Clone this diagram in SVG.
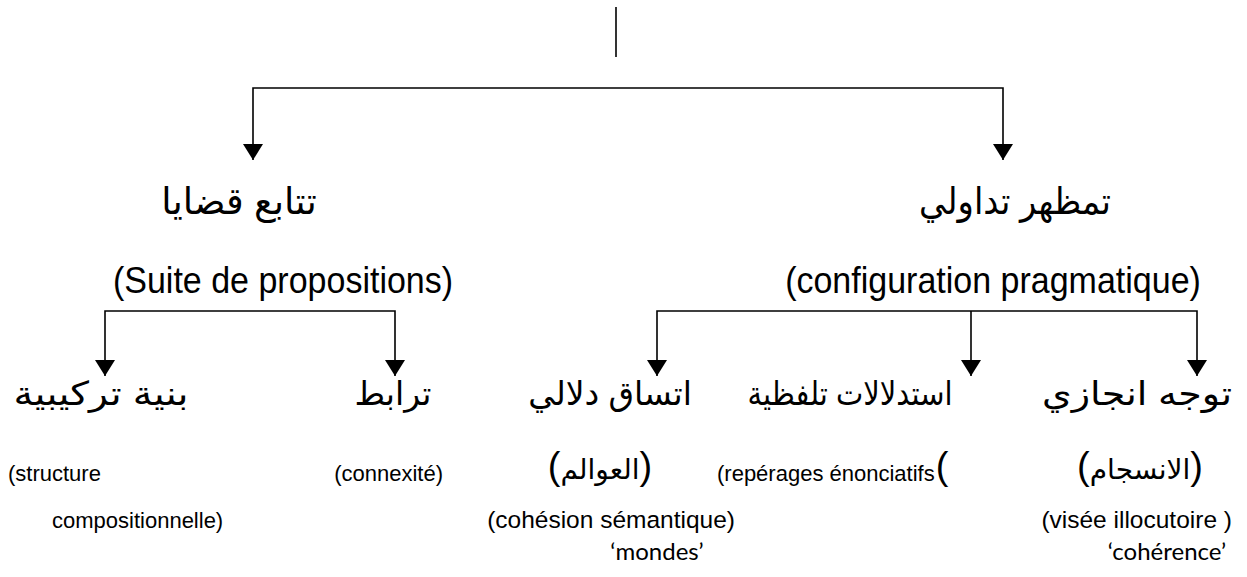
<svg xmlns="http://www.w3.org/2000/svg" width="1247" height="577" viewBox="0 0 1247 577">
<style>
.ln{fill:none;stroke:#000;stroke-width:1.6}
.ar1{font-family:"Liberation Sans","DejaVu Sans",sans-serif;font-size:37px;fill:#000;text-anchor:middle}
.fr1{font-family:"Liberation Sans",Arial,sans-serif;font-size:34px;fill:#000;text-anchor:middle}
.ar2{font-family:"Liberation Sans","DejaVu Sans",sans-serif;font-size:33px;fill:#000;text-anchor:middle}
.arp{font-family:"Liberation Sans","DejaVu Sans",sans-serif;font-size:38px;fill:#000;text-anchor:middle}
.arw{font-size:28px}
.sm{font-family:"Liberation Sans",Arial,sans-serif;font-size:22px;fill:#000}
.md{font-family:"Liberation Sans",Arial,sans-serif;font-size:24.5px;fill:#000}
.q{font-family:Lato,"Open Sans",sans-serif;font-size:24px;fill:#000;text-anchor:middle}
</style>
<defs>
<marker id="ah" markerUnits="userSpaceOnUse" viewBox="0 0 16 20" markerWidth="16" markerHeight="20" refX="16" refY="10" orient="auto-start-reverse">
<path d="M0,0 L16,10 L0,20 z" fill="#000"/>
</marker>
</defs>
<g id="connectors">
<path class="ln" d="M616,7 V57"/>
<path class="ln" d="M253,160 V88 H1003 V160" marker-start="url(#ah)" marker-end="url(#ah)"/>
<path class="ln" d="M105,376 V311 H395 V376" marker-start="url(#ah)" marker-end="url(#ah)"/>
<path class="ln" d="M657,376 V311 H1197 V376" marker-start="url(#ah)" marker-end="url(#ah)"/>
<path class="ln" d="M971,311 V376" marker-end="url(#ah)"/>
</g>
<g id="n-suite">
<text class="ar1" x="239" y="214" direction="rtl">تتابع قضايا</text>
<text class="fr1" transform="translate(283 293) scale(1 1.1)">(Suite de propositions)</text>
</g>
<g id="n-config">
<text class="ar1" x="1015" y="214" direction="rtl" textLength="192" lengthAdjust="spacingAndGlyphs">تمظهر تداولي</text>
<text class="fr1" transform="translate(993 293) scale(1 1.1)">(configuration pragmatique)</text>
</g>
<g id="n-structure">
<text class="ar2" x="101" y="405" direction="rtl" textLength="175" lengthAdjust="spacingAndGlyphs">بنية تركيبية</text>
<text class="sm" x="8" y="481">(structure</text>
<text class="sm" x="52" y="528">compositionnelle)</text>
</g>
<g id="n-connexite">
<text class="ar2" x="393" y="405" direction="rtl">ترابط</text>
<text class="sm" x="443" y="481" text-anchor="end">(connexité)</text>
</g>
<g id="n-cohesion">
<text class="ar2" x="610" y="405" direction="rtl">اتساق دلالي</text>
<text class="arp" x="600" y="479">(<tspan class="arw">العوالم</tspan>)</text>
<text class="md" x="735" y="528" text-anchor="end">(cohésion sémantique)</text>
<text class="q" x="657" y="560">‘mondes’</text>
</g>
<g id="n-reperages">
<text class="ar2" x="850" y="405" direction="rtl" textLength="205" lengthAdjust="spacingAndGlyphs">استدلالات تلفظية</text>
<text class="sm" x="717" y="481">(repérages énonciatifs</text>
<text class="arp" x="942" y="479" direction="ltr" unicode-bidi="bidi-override">(</text>
</g>
<g id="n-visee">
<text class="ar2" x="1137" y="405" direction="rtl" textLength="190" lengthAdjust="spacingAndGlyphs">توجه انجازي</text>
<text class="arp" x="1140" y="479">(<tspan class="arw">الانسجام</tspan>)</text>
<text class="md" x="1232" y="528" text-anchor="end">(visée illocutoire )</text>
<text class="q" x="1167" y="560">‘cohérence’</text>
</g>
</svg>
